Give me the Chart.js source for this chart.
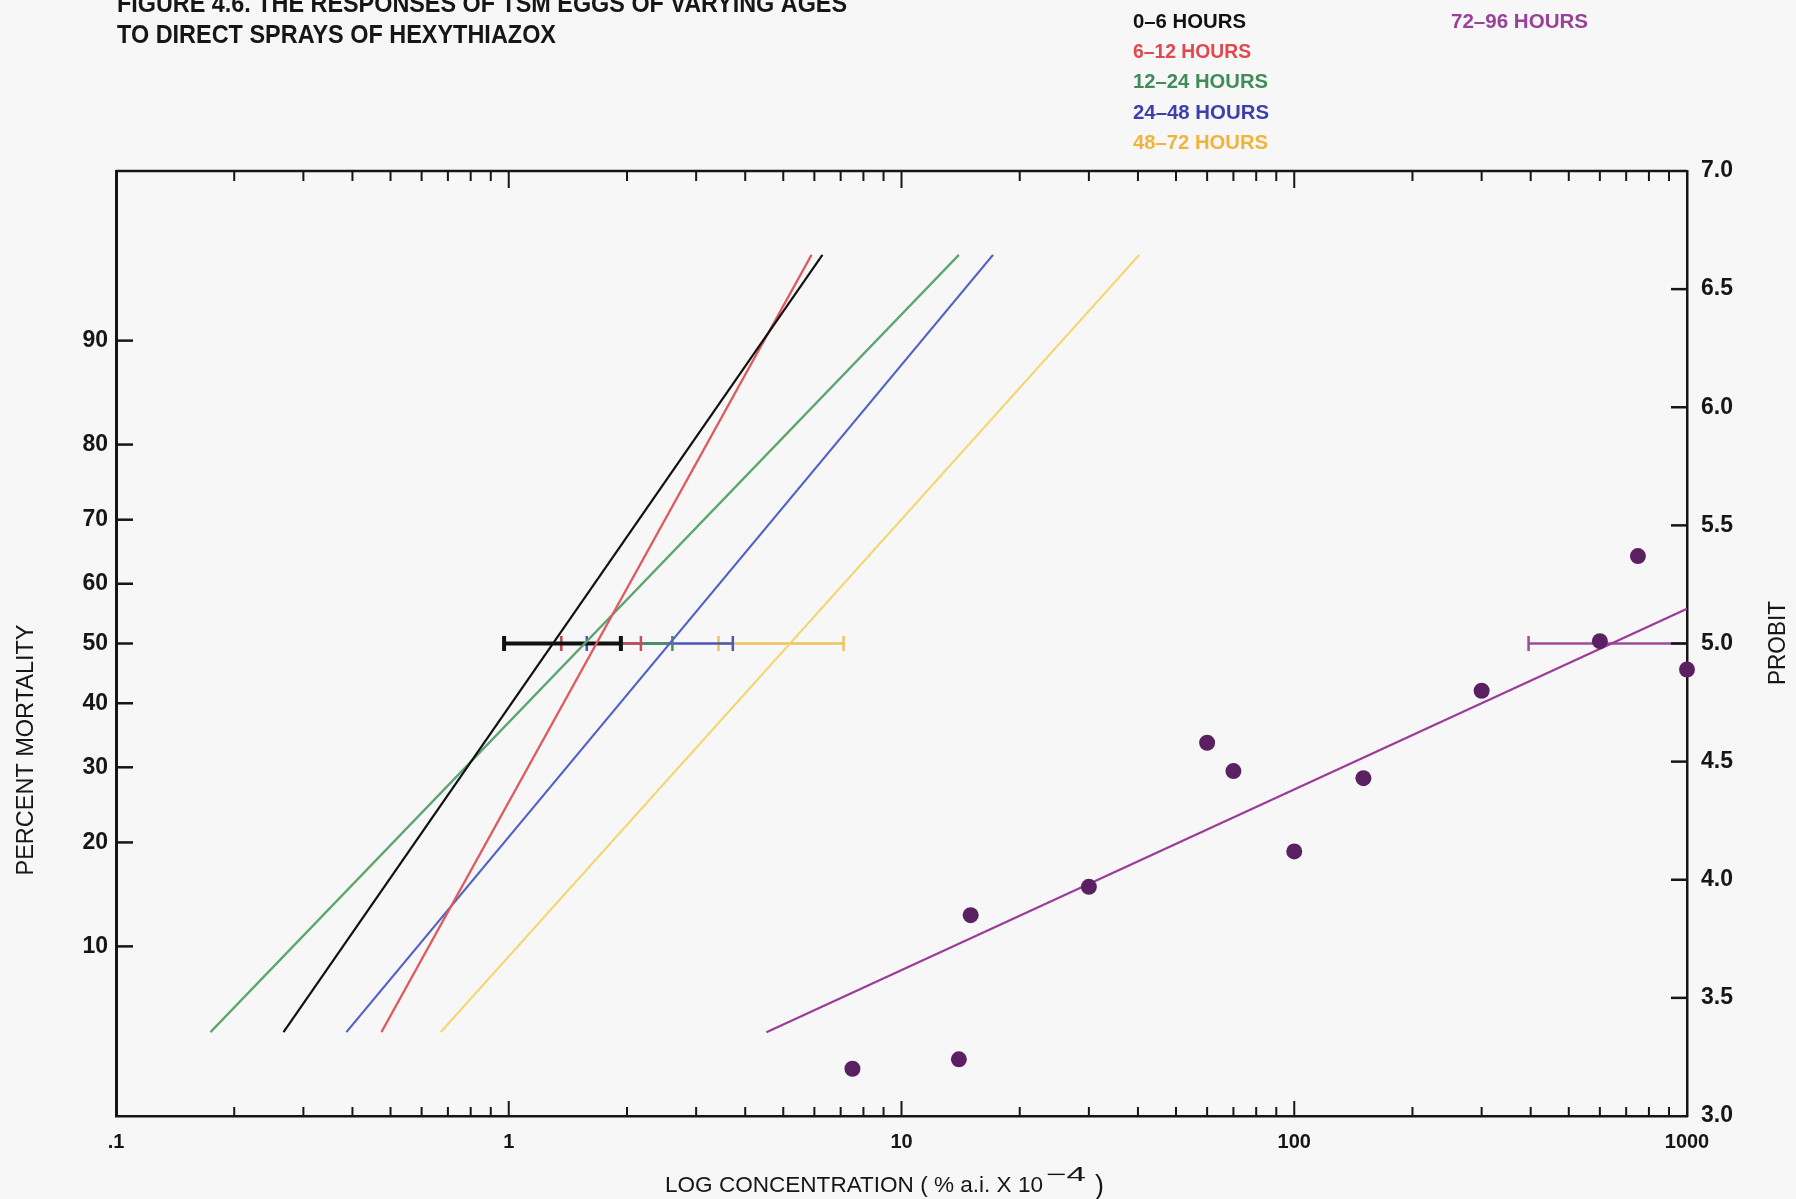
<!DOCTYPE html>
<html lang="en">
<head>
  <meta charset="UTF-8">
  <title>Figure 4.6 - Hexythiazox on TSM eggs</title>
  <script src="https://cdn.jsdelivr.net/npm/chart.js"></script>
  <style>
    body { margin: 0; background: #f7f7f7; overflow: hidden; }
    canvas { display: block; }
  </style>
</head>
<body>
  <canvas id="probitChart" width="1796" height="1199"></canvas>

  <script>
    // egg age groups
    const groups = ['0–6 HOURS', '6–12 HOURS', '12–24 HOURS', '24–48 HOURS', '48–72 HOURS', '72–96 HOURS'];

    // fitted probit lines: start / end (concentration, probit)
    const lineX0 = [0.267, 0.474, 0.174, 0.386, 0.671, 4.53];
    const lineY0 = [3.355, 3.355, 3.355, 3.355, 3.355, 3.355];
    const lineX1 = [6.29, 5.90, 14.0, 17.1, 40.3, 1000];
    const lineY1 = [6.645, 6.645, 6.645, 6.645, 6.645, 5.147];

    // 95% limits of LC50 (drawn at probit 5)
    const ciLow  = [0.973, 1.36, 1.36, 1.58, 3.42, 395];
    const ciHigh = [1.93, 2.17, 2.61, 3.72, 7.12, 1000];

    // observed points, 72-96 hours
    const obsConc   = [7.5, 14, 15, 30, 60, 70, 100, 150, 300, 600, 750, 1000];
    const obsProbit = [3.20, 3.24, 3.85, 3.97, 4.58, 4.46, 4.12, 4.43, 4.80, 5.01, 5.37, 4.89];

    // axis ticks
    const xTickValues = [0.1, 1, 10, 100, 1000];
    const xTickLabels = ['.1', '1', '10', '100', '1000'];
    const mortalityLabels = ['10', '20', '30', '40', '50', '60', '70', '80', '90'];
    const mortalityProbits = [3.718, 4.158, 4.476, 4.747, 5.0, 5.253, 5.524, 5.842, 6.282];

    const lineColors = ['#111111', '#e2585c', '#5aa570', '#5161c6', '#f4d66c', '#9c3c99'];
    const barColors  = ['#111111', '#c94c58', '#4f8a66', '#4a56b8', '#efc25c', '#a04a9c'];
    const textColors = ['#111111', '#e0474f', '#3f8c58', '#3b40ad', '#f0b43a', '#98409a'];

    const INK = '#161616';
    const SANS = '"Liberation Sans", Arial, sans-serif';

    // draws text squeezed to a given width (the original uses a narrow plotter font)
    function squeezed(ctx, str, x, y, w, font, color, align) {
      ctx.save();
      ctx.font = font;
      ctx.fillStyle = color;
      ctx.textAlign = 'left';
      ctx.textBaseline = 'alphabetic';
      const k = w / ctx.measureText(str).width;
      ctx.translate(align === 'center' ? x - w / 2 : x, y);
      ctx.scale(k, 1);
      ctx.fillText(str, 0, 0);
      ctx.restore();
    }

    function seg(ctx, x1, y1, x2, y2) {
      ctx.beginPath(); ctx.moveTo(x1, y1); ctx.lineTo(x2, y2); ctx.stroke();
    }

    const frame = {
      id: 'frame',
      beforeDraw(chart) {
        const c = chart.ctx;
        c.save();
        c.fillStyle = '#f7f7f7';
        c.fillRect(0, 0, chart.width, chart.height);
        c.restore();
      },
      afterDraw(chart) {
        const c = chart.ctx;
        const a = chart.chartArea;
        const { x, y, y2 } = chart.scales;
        c.save();
        c.strokeStyle = INK;
        c.lineCap = 'butt';

        // top frame line
        c.lineWidth = 2.5;
        seg(c, a.left, a.top, a.right, a.top);

        // inward ticks on bottom and top
        c.lineWidth = 2;
        [0.1, 1, 10, 100].forEach(d => {
          for (let m = 1; m <= 9; m++) {
            if (d === 0.1 && m === 1) continue;
            const px = x.getPixelForValue(d * m);
            const major = m === 1;
            seg(c, px, a.bottom, px, a.bottom - (major ? 15 : 9));
            seg(c, px, a.top, px, a.top + (major ? 17 : 10));
          }
        });

        // left ticks (percent mortality)
        c.lineWidth = 2.5;
        y.ticks.forEach(t => {
          const py = y.getPixelForValue(t.value);
          seg(c, a.left, py, a.left + 17, py);
        });
        // right ticks (probit)
        y2.ticks.forEach(t => {
          if (t.value <= 3 || t.value >= 7) return;
          const py = y2.getPixelForValue(t.value);
          seg(c, a.right - 16, py, a.right, py);
        });

        // title
        const titleFont = 'bold 25px ' + SANS;
        squeezed(c, 'FIGURE 4.6. THE RESPONSES OF TSM EGGS OF VARYING AGES', 117, 12, 730, titleFont, INK);
        squeezed(c, 'TO DIRECT SPRAYS OF HEXYTHIAZOX', 117, 43, 439, titleFont, INK);

        // legend text
        const legFont = 'bold 20px ' + SANS;
        const legW = [113, 118, 135, 136, 135, 137];
        for (let i = 0; i < 5; i++) {
          squeezed(c, groups[i], 1133, 28 + i * 30.2, legW[i], legFont, textColors[i]);
        }
        squeezed(c, groups[5], 1451, 28, legW[5], legFont, textColors[5]);

        // axis titles
        c.save();
        c.translate(33, 750);
        c.rotate(-Math.PI / 2);
        squeezed(c, 'PERCENT MORTALITY', 0, 0, 251, '23px ' + SANS, INK, 'center');
        c.restore();

        c.save();
        c.translate(1785, 643);
        c.rotate(-Math.PI / 2);
        squeezed(c, 'PROBIT', 0, 0, 84, '24px ' + SANS, INK, 'center');
        c.restore();

        squeezed(c, 'LOG CONCENTRATION ( % a.i. X 10', 665, 1192, 378, '22px ' + SANS, INK);
        squeezed(c, '−4', 1046, 1181, 40, '20px ' + SANS, INK);
        squeezed(c, ')', 1095, 1194, 9, '27px ' + SANS, INK);

        c.restore();
      }
    };

    const datasets = [];

    // observed points on top
    datasets.push({
      label: 'observed 72-96 h',
      data: obsConc.map((v, i) => ({ x: v, y: obsProbit[i] })),
      pointRadius: 8,
      pointBackgroundColor: '#5b2062',
      pointBorderWidth: 0,
      showLine: false,
      clip: false,
      order: 0
    });

    // regression lines
    groups.forEach((g, i) => {
      datasets.push({
        label: g,
        data: [{ x: lineX0[i], y: lineY0[i] }, { x: lineX1[i], y: lineY1[i] }],
        borderColor: lineColors[i],
        borderWidth: 2.2,
        pointRadius: 0,
        showLine: true,
        order: 1
      });
    });

    // LC50 confidence bars, black drawn last (on top)
    groups.forEach((g, i) => {
      datasets.push({
        label: g + ' LC50 95% CL',
        data: [{ x: ciLow[i], y: 5 }, { x: ciHigh[i], y: 5 }],
        borderColor: barColors[i],
        borderWidth: i === 0 ? 4 : 2.5,
        showLine: true,
        pointStyle: 'line',
        rotation: 90,
        pointRadius: i === 5 ? [7.5, 0] : 7.5,
        pointBorderColor: barColors[i],
        pointBorderWidth: i === 0 ? 4 : 2.5,
        order: 2 + i
      });
    });

    const tickFont = { family: SANS, size: 23, weight: 'bold' };

    new Chart(document.getElementById('probitChart'), {
      type: 'scatter',
      data: { datasets },
      options: {
        responsive: false,
        animation: false,
        events: [],
        layout: { padding: { top: 171, left: 0, right: 0, bottom: 0 } },
        plugins: { legend: { display: false }, tooltip: { enabled: false } },
        scales: {
          x: {
            type: 'logarithmic',
            position: 'bottom',
            min: 0.1,
            max: 1000,
            afterBuildTicks: s => { s.ticks = xTickValues.map(v => ({ value: v })); },
            afterFit: s => { s.height = 83; },
            ticks: {
              callback: (v, i) => xTickLabels[i],
              font: { family: SANS, size: 20, weight: 'bold' },
              color: INK,
              padding: 6,
              maxRotation: 0,
              autoSkip: false
            },
            grid: { display: false },
            border: { color: INK, width: 2.5 }
          },
          y: {
            position: 'left',
            min: 3,
            max: 7,
            afterBuildTicks: s => { s.ticks = mortalityProbits.map(v => ({ value: v })); },
            afterFit: s => { s.width = 116; },
            ticks: { callback: (v, i) => mortalityLabels[i], font: tickFont, color: INK, padding: 0 },
            grid: { display: false },
            border: { color: INK, width: 3 }
          },
          y2: {
            position: 'right',
            min: 3,
            max: 7,
            afterFit: s => { s.width = 109; },
            ticks: { stepSize: 0.5, callback: v => v.toFixed(1), font: tickFont, color: INK, padding: 6 },
            grid: { display: false },
            border: { color: INK, width: 2.5 }
          }
        }
      },
      plugins: [frame]
    });
  </script>
</body>
</html>
